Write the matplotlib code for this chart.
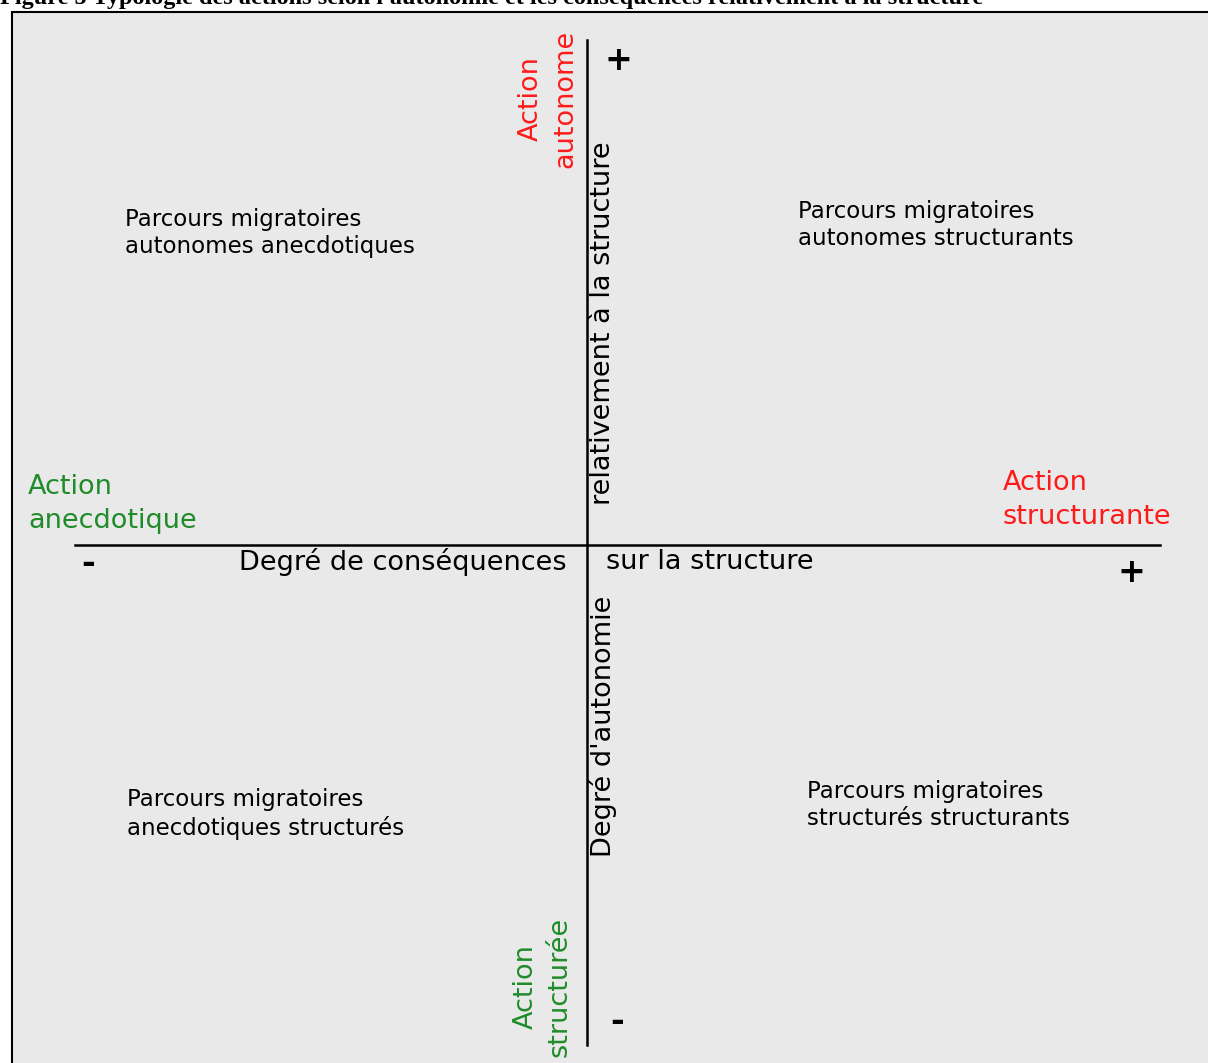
"""Typologie des actions selon l'autonomie et les conséquences (schéma en croix)."""

import matplotlib.pyplot as plt
from matplotlib.patches import Rectangle

TITLE = ("Figure 5 Typologie des actions selon l'autonomie et les "
         "conséquences relativement à la structure")

# axis captions, each split in two around the crossing point
H_AXIS_LABELS = ["Degré de conséquences", "sur la structure"]
V_AXIS_LABELS = ["relativement à la structure", "Degré d'autonomie"]

# poles of each axis
POLE_LABELS = ["Action\nautonome", "Action\nstructurée",
               "Action\nanecdotique", "Action\nstructurante"]
POLE_SIGNS = ["+", "-", "-", "+"]

# one label per quadrant: top-left, top-right, bottom-left, bottom-right
QUADRANT_LABELS = [
    "Parcours migratoires\nautonomes anecdotiques",
    "Parcours migratoires\nautonomes structurants",
    "Parcours migratoires\nanecdotiques structurés",
    "Parcours migratoires\nstructurés structurants",
]

RED = "#ff1a1a"
GREEN = "#1f8c2a"
BG = "#e9e9e9"
FONT = "DejaVu Sans"


def main() -> None:
    W, H = 1208, 1063
    fig = plt.figure(figsize=(W / 100, H / 100), dpi=100)
    ax = fig.add_axes([0, 0, 1, 1])
    ax.set_xlim(0, W)
    ax.set_ylim(H, 0)
    ax.axis("off")

    # framed grey panel, title clipped at the top like the scanned page
    ax.add_patch(Rectangle((12, 12), W, H, facecolor=BG,
                           edgecolor="black", linewidth=1.5))
    ax.text(0, 4, TITLE, fontsize=17.5, fontweight="bold",
            family="Liberation Serif", va="baseline", ha="left")

    # axes of the diagram
    ax.plot([75, 1160], [545, 545], color="black", lw=1.8)
    ax.plot([587, 587], [40, 1045], color="black", lw=1.8)

    axis_kw = dict(fontsize=19.5, family=FONT, color="black")
    ax.text(567, 562, H_AXIS_LABELS[0], ha="right", va="center", **axis_kw)
    ax.text(606, 562, H_AXIS_LABELS[1], ha="left", va="center", **axis_kw)
    ax.text(603, 505, V_AXIS_LABELS[0], rotation=90, ha="center",
            va="bottom", **axis_kw)
    ax.text(603, 857, V_AXIS_LABELS[1], rotation=90, ha="center",
            va="bottom", **axis_kw)

    pole_kw = dict(fontsize=19.5, family=FONT, linespacing=1.4)
    ax.text(548, 168, POLE_LABELS[0], rotation=90, ha="center",
            va="bottom", color=RED, **pole_kw)
    ax.text(543, 1057, POLE_LABELS[1], rotation=90, ha="center",
            va="bottom", color=GREEN, **pole_kw)
    ax.text(28, 504, POLE_LABELS[2], ha="left", va="center",
            color=GREEN, **pole_kw)
    ax.text(1003, 500, POLE_LABELS[3], ha="left", va="center",
            color=RED, **pole_kw)

    sign_kw = dict(fontsize=24, fontweight="bold", family=FONT,
                   ha="center", va="center")
    for sign, (x, y) in zip(POLE_SIGNS, [(618, 60), (617, 1022),
                                          (88, 563), (1131, 572)]):
        ax.text(x, y, sign, **sign_kw)

    quad_kw = dict(fontsize=16.5, family=FONT, ha="left", va="center",
                   linespacing=1.25)
    for label, (x, y) in zip(QUADRANT_LABELS, [(125, 233), (798, 225),
                                                (127, 814), (807, 805)]):
        ax.text(x, y, label, **quad_kw)

    fig.savefig("out.png", dpi=100)


if __name__ == "__main__":
    main()
